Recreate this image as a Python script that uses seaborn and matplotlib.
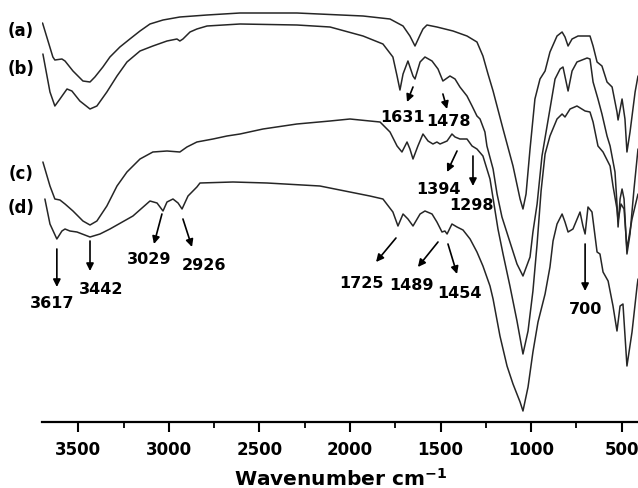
import numpy as np
import pandas as pd
import matplotlib
matplotlib.use("Agg")
import matplotlib.pyplot as plt
import seaborn as sns

# ---- data (wavenumber in cm-1, transmittance in arbitrary offset units) ----
wn_a = [3697, 3640, 3629, 3590, 3573, 3529, 3474, 3435, 3408, 3364, 3325, 3270, 3215, 3159, 3104,
        3032, 2939, 2789, 2607, 2293, 1928, 1779, 1707, 1669, 1641, 1613, 1597, 1575, 1520, 1431,
        1354, 1299, 1266, 1238, 1210, 1155, 1100, 1061, 1045, 1028, 1006, 979, 951, 923, 896, 857,
        829, 813, 796, 774, 741, 675, 658, 636, 609, 581, 553, 526, 520, 498, 482, 471, 454, 426, 410]
t_a = [399, 365, 362, 363, 361, 351, 341, 340, 345, 355, 365, 375, 383, 391, 398,
       402, 405, 407, 409, 409, 406, 403, 396, 386, 376, 387, 393, 397, 395, 391,
       386, 380, 366, 348, 331, 293, 256, 223, 213, 228, 273, 323, 343, 351, 370, 386,
       390, 385, 376, 383, 386, 386, 376, 360, 356, 340, 335, 310, 302, 323, 303, 270, 290, 330, 346]

wn_b = [3695, 3656, 3629, 3601, 3562, 3535, 3491, 3435, 3397, 3342, 3286, 3231, 3159, 3088, 3010,
        2955, 2939, 2922, 2883, 2845, 2789, 2607, 2293, 2110, 1928, 1818, 1763, 1740, 1724, 1707,
        1680, 1652, 1641, 1613, 1586, 1547, 1514, 1487, 1448, 1420, 1393, 1354, 1326, 1299, 1282,
        1255, 1244, 1210, 1188, 1161, 1117, 1078, 1045, 1006, 990, 967, 940, 896, 868, 840, 824,
        796, 774, 747, 691, 675, 658, 631, 609, 581, 564, 537, 526, 520, 509, 498, 487, 471, 454,
        432, 410]
t_b = [368, 330, 316, 323, 333, 331, 321, 313, 316, 330, 346, 360, 371, 376, 381,
       383, 381, 383, 390, 393, 396, 398, 397, 395, 386, 378, 365, 346, 332, 348,
       361, 346, 343, 360, 365, 361, 353, 341, 346, 343, 335, 326, 316, 306, 303,
       290, 276, 253, 228, 205, 180, 158, 146, 165, 190, 218, 266, 313, 343, 353, 355,
       331, 351, 360, 364, 363, 340, 323, 308, 286, 276, 250, 218, 195, 223, 233, 223, 168, 188,
       233, 273]

wn_c = [3695, 3656, 3629, 3601, 3573, 3529, 3474, 3435, 3397, 3342, 3286, 3231, 3159, 3088, 3010,
        2939, 2900, 2845, 2756, 2679, 2607, 2480, 2293, 2110, 2000, 1890, 1834, 1779, 1740, 1713,
        1685, 1669, 1652, 1625, 1597, 1569, 1542, 1520, 1503, 1464, 1437, 1420, 1393, 1354, 1326,
        1299, 1266, 1227, 1183, 1155, 1117, 1078, 1045, 1017, 990, 967, 945, 923, 896, 857, 829,
        813, 785, 747, 702, 675, 658, 631, 603, 564, 548, 526, 520, 504, 487, 471, 443, 410]
t_c = [260, 236, 223, 222, 218, 211, 201, 197, 201, 216, 236, 250, 263, 270, 271,
       270, 275, 280, 283, 286, 288, 293, 298, 301, 303, 301, 300, 290, 276, 270,
       280, 273, 263, 276, 288, 281, 278, 280, 278, 281, 288, 285, 283, 283, 276,
       273, 266, 243, 193, 168, 136, 101, 68, 91, 131, 178, 231, 268, 286, 303, 308,
       305, 313, 316, 311, 310, 300, 276, 270, 256, 236, 213, 201, 218, 213, 173, 203, 228]

wn_d = [3684, 3656, 3618, 3590, 3573, 3546, 3507, 3435, 3380, 3325, 3198, 3104, 3065, 3032, 3010,
        2977, 2949, 2927, 2894, 2845, 2828, 2646, 2458, 2166, 1890, 1818, 1763, 1735, 1707, 1680,
        1652, 1613, 1586, 1547, 1520, 1492, 1476, 1464, 1437, 1409, 1376, 1337, 1299, 1266, 1227,
        1210, 1172, 1133, 1100, 1061, 1045, 1017, 990, 962, 923, 896, 879, 857, 829, 813, 796,
        769, 730, 714, 702, 686, 664, 636, 620, 603, 575, 548, 526, 509, 493, 471, 443, 415, 410]
t_d = [223, 198, 183, 191, 193, 191, 190, 185, 188, 193, 206, 221, 219, 211, 220,
       223, 219, 213, 226, 235, 239, 240, 239, 236, 226, 223, 210, 196, 208, 203,
       196, 208, 211, 208, 200, 190, 191, 188, 198, 195, 192, 183, 170, 156, 136,
       123, 86, 56, 38, 20, 11, 35, 70, 100, 128, 155, 181, 198, 208, 200, 190,
       193, 210, 196, 188, 215, 210, 170, 168, 150, 141, 116, 91, 116, 118, 56, 90, 136, 143]

sample_labels = ["(a)", "(b)", "(c)", "(d)"]
label_y_frac = [0.937, 0.859, 0.644, 0.575]

peak_labels = ["1631", "1478", "1394", "1298", "3617", "3442", "3029", "2926",
               "1725", "1489", "1454", "700"]
peak_text_pos = [(1713, 306), (1459, 302), (1509, 234), (1332, 217), (3645, 119), (3375, 133),
                 (3110, 164), (2806, 158), (1934, 140), (1658, 138), (1398, 130), (702, 114)]
arrow_tail = [(1652, 335), (1487, 328), (1409, 271), (1321, 266), (3618, 173), (3435, 181),
              (3038, 208), (2922, 203), (1746, 184), (1514, 180), (1459, 178), (702, 178)]
arrow_head = [(1685, 320), (1464, 313), (1464, 250), (1321, 236), (3618, 135), (3435, 151),
              (3082, 178), (2872, 175), (1856, 160), (1625, 155), (1409, 148), (702, 131)]

xticks = [3500, 3000, 2500, 2000, 1500, 1000, 500]
minor_xticks = [3250, 2750, 2250, 1750, 1250, 750]

# ---- build table ----
frames = []
for name, w, t in zip(sample_labels, [wn_a, wn_b, wn_c, wn_d], [t_a, t_b, t_c, t_d]):
    frames.append(pd.DataFrame({"wn": w, "T": t, "sample": name}))
df = pd.concat(frames, ignore_index=True)

sns.set_theme(style="white")
plt.rcParams["font.family"] = ["DejaVu Sans"]
plt.rcParams["font.weight"] = "bold"
plt.rcParams["text.color"] = "black"
plt.rcParams["xtick.color"] = "black"
plt.rcParams["mathtext.fontset"] = "custom"
plt.rcParams["mathtext.rm"] = "DejaVu Sans:bold"
plt.rcParams["mathtext.default"] = "rm"

fig = plt.figure(figsize=(6.38, 4.89), dpi=100)
ax = fig.add_axes([42 / 638, (489 - 423) / 489, 1 - 42 / 638, 423 / 489])

sns.lineplot(data=df, x="wn", y="T", hue="sample", units="sample", estimator=None,
             sort=False, palette=["#262626"] * 4, linewidth=1.1, legend=False, ax=ax)

ax.set_xlim(3700, 410)
ax.set_ylim(0, 423)
ax.set_yticks([])
ax.set_ylabel("")
ax.set_xlabel("")
for s in ["top", "left", "right"]:
    ax.spines[s].set_visible(False)
ax.spines["bottom"].set_linewidth(1.6)
ax.spines["bottom"].set_color("black")
ax.set_xticks(xticks)
ax.set_xticklabels([str(v) for v in xticks], fontsize=12, fontweight="bold")
ax.set_xticks(minor_xticks, minor=True)
ax.tick_params(axis="x", which="major", direction="out", length=7, width=1.5, pad=6,
               bottom=True, color="black", labelcolor="black")
ax.tick_params(axis="x", which="minor", direction="out", length=4, width=1.3,
               bottom=True, color="black")

fig.text(340 / 638, 1 - 486 / 489, "Wavenumber cm$^{-1}$", ha="center", va="baseline",
         fontsize=14.5, fontweight="bold", color="black")

for lab, yf in zip(sample_labels, label_y_frac):
    fig.text(21 / 638, yf, lab, ha="center", va="center", fontsize=12, fontweight="bold",
             color="black")

for lab, pos in zip(peak_labels, peak_text_pos):
    ax.text(pos[0], pos[1], lab, ha="center", va="center", fontsize=11.5, fontweight="bold",
            color="black")

for tail, head in zip(arrow_tail, arrow_head):
    ax.annotate("", xy=head, xytext=tail,
                arrowprops=dict(arrowstyle="-|>", color="black", lw=1.2,
                                mutation_scale=11, shrinkA=0, shrinkB=0))

fig.savefig("out.png", dpi=100)
